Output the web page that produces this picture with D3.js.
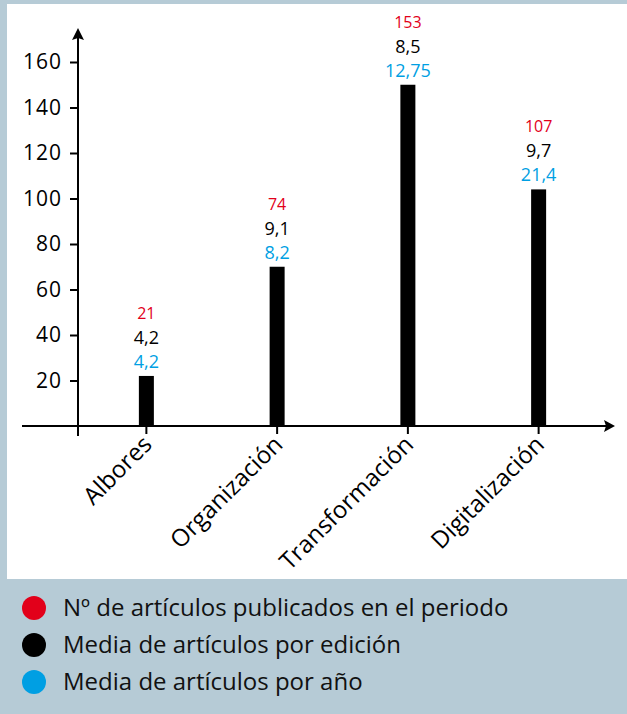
<!DOCTYPE html>
<html>
<head>
<meta charset="utf-8">
<script src="https://cdn.jsdelivr.net/npm/d3@7"></script>
<style>
    body { margin: 0; }
    svg { display: block; font-family: "Open Sans", sans-serif; }
</style>
</head>
<body>
<svg id="chart" width="627" height="714"></svg>
<script>

// ========== DATA ==========

const periodos = ["Albores", "Organización", "Transformación", "Digitalización"];
// altura de las barras leída sobre el eje
const alturaBarras = [22, 70, 150, 104];
const articulos = ["21", "74", "153", "107"];
const mediaEdicion = ["4,2", "9,1", "8,5", "9,7"];
const mediaAnio = ["4,2", "8,2", "12,75", "21,4"];
const yTicks = [20, 40, 60, 80, 100, 120, 140, 160];
const leyenda = [
    "Nº de artículos publicados en el periodo",
    "Media de artículos por edición",
    "Media de artículos por año"
];

const RED = "#e2001a", BLUE = "#009fe3", BG = "#b6cbd6";

// ========== MAIN CODE ==========

const svg = d3.select("#chart");

svg.append("rect").attr("width", 627).attr("height", 714).attr("fill", BG);
svg.append("rect")
    .attr("x", 7).attr("y", 4)
    .attr("width", 620).attr("height", 575)
    .attr("fill", "#fff");

const x = d3.scaleBand()
    .domain(periodos)
    .range([81, 604]);

const y = d3.scaleLinear()
    .domain([0, 160])
    .range([426, 62]);

const cx = d => x(d) + x.bandwidth() / 2;

// y axis ticks + labels
const yAxis = d3.axisLeft(y)
    .tickValues(yTicks)
    .tickSize(8)
    .tickPadding(8)
    .tickSizeOuter(0);

const gy = svg.append("g")
    .attr("transform", "translate(78,0)")
    .call(yAxis);
gy.select(".domain").remove();
gy.selectAll("line").attr("stroke", "#000").attr("stroke-width", 2);
gy.selectAll("text")
    .attr("font-family", "Open Sans")
    .attr("font-size", 21)
    .attr("letter-spacing", 1)
    .attr("fill", "#000");

// x axis ticks + rotated labels
const xAxis = d3.axisBottom(x)
    .tickSize(8)
    .tickSizeOuter(0);

const gx = svg.append("g")
    .attr("transform", "translate(0," + y(0) + ")")
    .call(xAxis);
gx.select(".domain").remove();
gx.selectAll("line").attr("stroke", "#000").attr("stroke-width", 2);
gx.selectAll("text")
    .attr("font-family", "Open Sans")
    .attr("font-size", 24)
    .attr("fill", "#000")
    .attr("text-anchor", "end")
    .attr("dy", null)
    .attr("y", 0)
    .attr("transform", "translate(7,20) rotate(-45)");

// axis lines with arrows
svg.append("line")
    .attr("x1", 22).attr("x2", 606)
    .attr("y1", y(0)).attr("y2", y(0))
    .attr("stroke", "#000").attr("stroke-width", 2);
svg.append("path")
    .attr("d", `M615,${y(0)} L604,${y(0) - 6} L606,${y(0)} L604,${y(0) + 6} Z`)
    .attr("fill", "#000");

svg.append("line")
    .attr("x1", 78).attr("x2", 78)
    .attr("y1", 436).attr("y2", 36)
    .attr("stroke", "#000").attr("stroke-width", 2);
svg.append("path")
    .attr("d", "M78,28 L72,40 L78,38 L84,40 Z")
    .attr("fill", "#000");

// bars
svg.append("g").selectAll("rect")
    .data(periodos)
    .join("rect")
    .attr("x", d => cx(d) - 7.5)
    .attr("width", 15)
    .attr("y", (d, i) => y(alturaBarras[i]))
    .attr("height", (d, i) => y(0) - y(alturaBarras[i]))
    .attr("fill", "#000");

// value labels above bars
const labels = svg.append("g").attr("text-anchor", "middle");
const addLabels = (values, off, color, size) => {
    labels.append("g").selectAll("text")
        .data(periodos)
        .join("text")
        .attr("x", d => cx(d))
        .attr("y", (d, i) => y(alturaBarras[i]) - off)
        .attr("fill", color)
        .attr("font-size", size)
        .attr("font-weight", 500)
        .text((d, i) => values[i]);
};
addLabels(articulos, 57, RED, 16);
addLabels(mediaEdicion, 32, "#000", 18);
addLabels(mediaAnio, 8, BLUE, 18);

// legend
const legend = svg.append("g").selectAll("g")
    .data(leyenda)
    .join("g")
    .attr("transform", (d, i) => "translate(0," + (608 + i * 37) + ")");

legend.append("circle")
    .attr("cx", 34)
    .attr("r", 12)
    .attr("fill", (d, i) => [RED, "#000", BLUE][i]);

legend.append("text")
    .attr("x", 63)
    .attr("dy", "0.35em")
    .attr("font-size", 24)
    .attr("fill", "#111")
    .text(d => d);

</script>
</body>
</html>
